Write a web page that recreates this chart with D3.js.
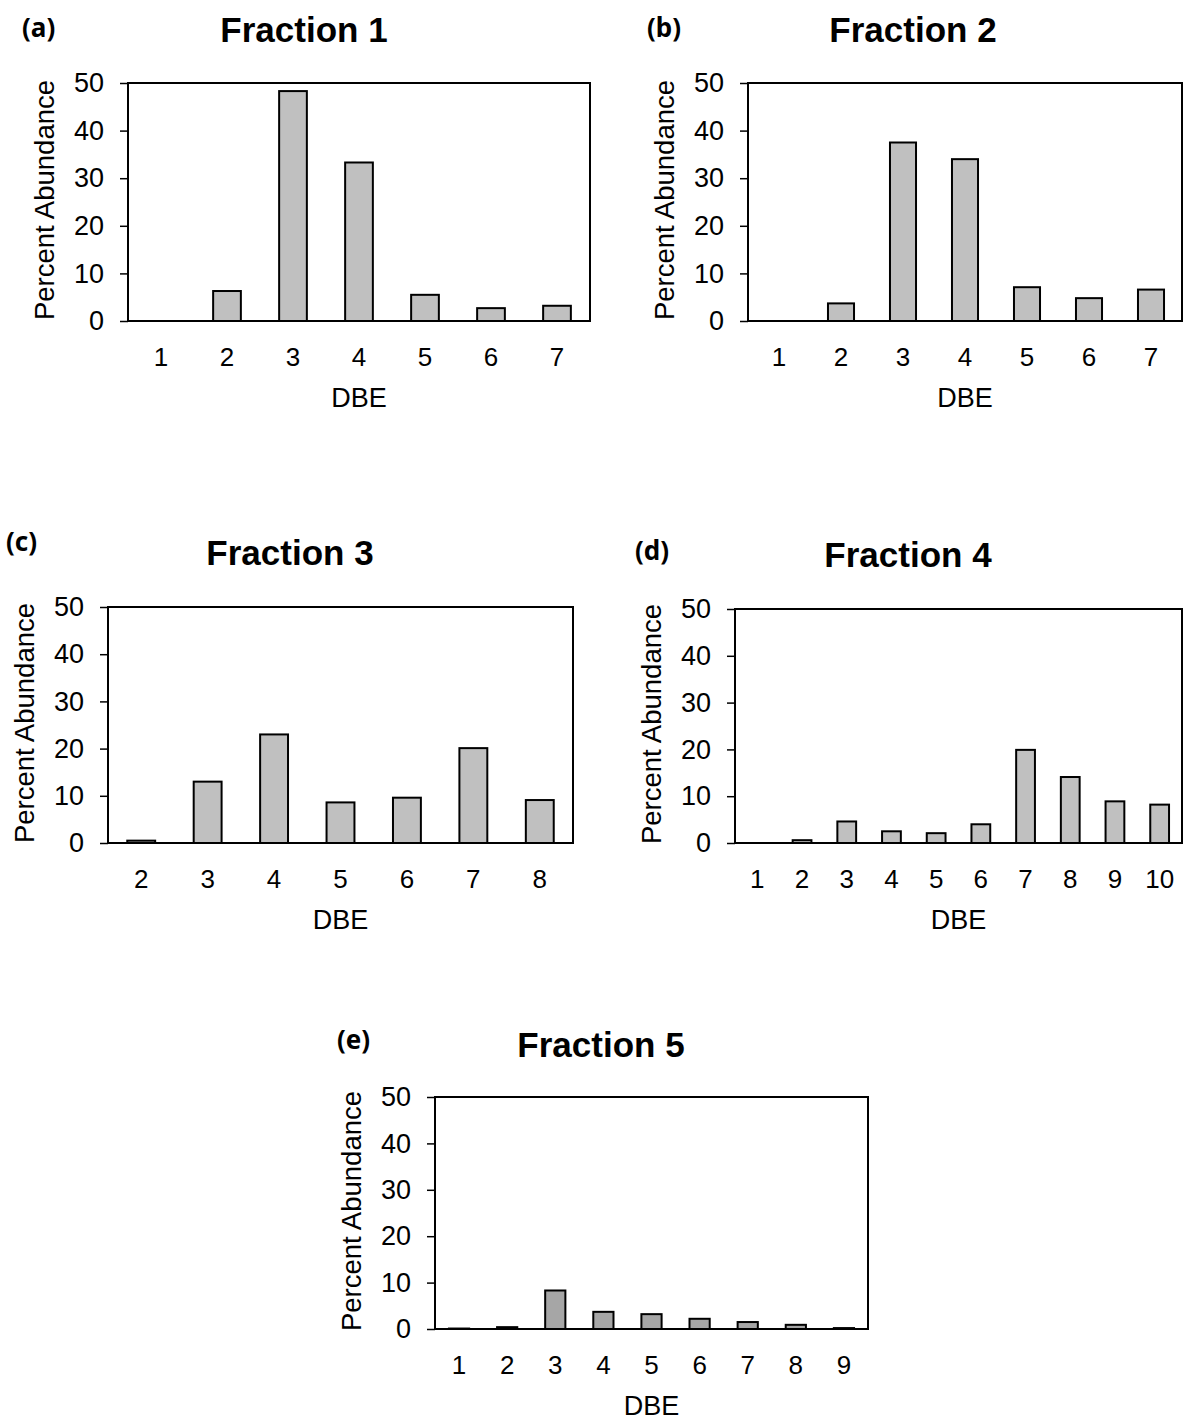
<!DOCTYPE html>
<html>
<head>
<meta charset="utf-8">
<script src="https://cdn.jsdelivr.net/npm/d3@7"></script>
<style>
  body { margin: 0; background: #fff; }
  svg { display: block; font-family: "Liberation Sans", Arial, sans-serif; }
</style>
</head>
<body>
<svg width="1185" height="1423"></svg>
<script>
// DBE categories and percent abundance per fraction
const dbe1 = ["1", "2", "3", "4", "5", "6", "7"];
const pct1 = [0, 6.3, 48.3, 33.3, 5.5, 2.7, 3.2];

const dbe2 = ["1", "2", "3", "4", "5", "6", "7"];
const pct2 = [0, 3.7, 37.5, 34.0, 7.1, 4.8, 6.6];

const dbe3 = ["2", "3", "4", "5", "6", "7", "8"];
const pct3 = [0.5, 13.0, 23.0, 8.6, 9.6, 20.1, 9.1];

const dbe4 = ["1", "2", "3", "4", "5", "6", "7", "8", "9", "10"];
const pct4 = [0, 0.6, 4.6, 2.5, 2.1, 4.0, 19.9, 14.1, 8.9, 8.2];

const dbe5 = ["1", "2", "3", "4", "5", "6", "7", "8", "9"];
const pct5 = [0.1, 0.4, 8.3, 3.7, 3.2, 2.2, 1.5, 0.9, 0.2];

const yTicks = [0, 10, 20, 30, 40, 50];

// where each panel sits on the page
const panels = [
  { tag: "(a)", title: "Fraction 1", cats: dbe1, vals: pct1, x0: 128, x1: 590, y0: 83, y1: 321, fill: "#c0c0c0",
    tagX: 22, tagY: 37, titleX: 304, titleY: 42 },
  { tag: "(b)", title: "Fraction 2", cats: dbe2, vals: pct2, x0: 748, x1: 1182, y0: 83, y1: 321, fill: "#c0c0c0",
    tagX: 647, tagY: 37, titleX: 913, titleY: 42 },
  { tag: "(c)", title: "Fraction 3", cats: dbe3, vals: pct3, x0: 108, x1: 573, y0: 607, y1: 843, fill: "#c0c0c0",
    tagX: 6, tagY: 551, titleX: 290, titleY: 565 },
  { tag: "(d)", title: "Fraction 4", cats: dbe4, vals: pct4, x0: 735, x1: 1182, y0: 609, y1: 843, fill: "#c0c0c0",
    tagX: 635, tagY: 560, titleX: 908, titleY: 567 },
  { tag: "(e)", title: "Fraction 5", cats: dbe5, vals: pct5, x0: 435, x1: 868, y0: 1097, y1: 1329, fill: "#a6a6a6",
    tagX: 337, tagY: 1049, titleX: 601, titleY: 1057 }
];

const svg = d3.select("svg");

panels.forEach(p => {
  const g = svg.append("g");

  const x = d3.scaleBand()
    .domain(p.cats)
    .range([p.x0, p.x1])
    .paddingInner(0.58)
    .paddingOuter(0.29);

  const y = d3.scaleLinear().domain([0, 50]).range([p.y1, p.y0]);

  // bars
  g.selectAll("rect.bar")
    .data(p.cats.map((c, i) => ({ c: c, v: p.vals[i] })))
    .join("rect")
    .attr("class", "bar")
    .attr("x", d => x(d.c))
    .attr("y", d => y(d.v))
    .attr("width", x.bandwidth())
    .attr("height", d => y(0) - y(d.v))
    .attr("fill", p.fill)
    .attr("stroke", "#000")
    .attr("stroke-width", 2);

  // frame
  g.append("rect")
    .attr("x", p.x0).attr("y", p.y0)
    .attr("width", p.x1 - p.x0).attr("height", p.y1 - p.y0)
    .attr("fill", "none").attr("stroke", "#000").attr("stroke-width", 2);

  // y axis
  const ya = g.append("g")
    .attr("transform", `translate(${p.x0},0)`)
    .call(d3.axisLeft(y).tickValues(yTicks).tickSize(8).tickPadding(16));
  ya.select(".domain").remove();
  ya.selectAll("line").attr("stroke", "#000").attr("stroke-width", 1.5);
  ya.selectAll("text").attr("font-size", 27).attr("fill", "#000").attr("font-family", "Liberation Sans, Arial");

  // x axis labels only
  const xa = g.append("g")
    .attr("transform", `translate(0,${p.y1})`)
    .call(d3.axisBottom(x).tickSize(0).tickPadding(27));
  xa.select(".domain").remove();
  xa.selectAll("text").attr("font-size", 26).attr("fill", "#000").attr("font-family", "Liberation Sans, Arial");

  // axis titles
  g.append("text")
    .attr("x", (p.x0 + p.x1) / 2)
    .attr("y", p.y1 + 86)
    .attr("text-anchor", "middle")
    .attr("font-size", 27)
    .text("DBE");

  g.append("text")
    .attr("transform", `translate(${p.x0 - 74},${(p.y0 + p.y1) / 2 - 2}) rotate(-90)`)
    .attr("text-anchor", "middle")
    .attr("font-size", 27.5)
    .text("Percent Abundance");

  // panel title and tag
  g.append("text")
    .attr("x", p.titleX).attr("y", p.titleY)
    .attr("text-anchor", "middle")
    .attr("font-size", 35).attr("font-weight", "bold")
    .text(p.title);

  g.append("text")
    .attr("x", p.tagX).attr("y", p.tagY)
    .attr("font-family", "Noto Sans, sans-serif")
    .attr("font-size", 26).attr("font-weight", "bold")
    .text(p.tag);
});
</script>
</body>
</html>
